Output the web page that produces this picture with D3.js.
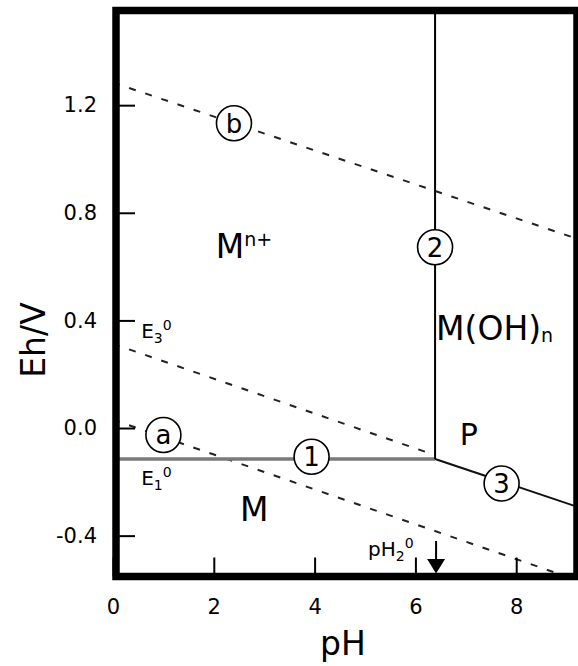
<!DOCTYPE html>
<html>
<head>
<meta charset="utf-8">
<script src="https://cdn.jsdelivr.net/npm/d3@7"></script>
<style>
  body { margin: 0; background: #fff; }
  text { font-family: "DejaVu Sans", Verdana, sans-serif; fill: #000; }
</style>
</head>
<body>
<script>

// axis values
var pHDomain = [0, 9.2];
var EhDomain = [-0.55, 1.55];
var xTicks = [0, 2, 4, 6, 8];
var yTicks = [-0.4, 0.0, 0.4, 0.8, 1.2];

// boundary lines, [pH, Eh]
var line1 = [[0, -0.115], [6.39, -0.115]];
var line2 = [[6.39, 1.55], [6.39, -0.115]];
var line3 = [[6.39, -0.115], [9.2, -0.292]];
var lineE3 = [[0, 0.313], [6.39, -0.101]];
var lineA = [[0, 0.031], [9.2, -0.565]];
var lineB = [[0, 1.284], [9.2, 0.704]];

// circled labels
var circText = ["b", "2", "a", "1", "3"];
var circPH = [2.40, 6.39, 1.00, 3.94, 7.71];
var circEh = [1.133, 0.672, -0.026, -0.107, -0.206];

var W = 578, H = 666;
var frame = {left: 116, right: 577, top: 10.5, bottom: 576.5};

var xScale = d3.scaleLinear().domain(pHDomain).range([113, 576.7]);
var yScale = d3.scaleLinear().domain(EhDomain).range([576, 11]);

var svg = d3.select("body").append("svg")
    .attr("width", W)
    .attr("height", H);

svg.append("rect").attr("width", W).attr("height", H).attr("fill", "#fff");

svg.append("clipPath").attr("id", "plot")
    .append("rect")
    .attr("x", frame.left).attr("y", frame.top)
    .attr("width", frame.right - frame.left)
    .attr("height", frame.bottom - frame.top);

var line = d3.line().x(function(d){ return xScale(d[0]); }).y(function(d){ return yScale(d[1]); });

function drawAxes(){
    var yAxis = d3.axisLeft(yScale).tickValues(yTicks).tickSize(-19).tickPadding(19)
        .tickFormat(function(d){ return d.toFixed(1); });
    var gy = svg.append("g")
        .attr("transform", "translate(" + frame.left + ",0)")
        .call(yAxis);
    gy.select(".domain").remove();
    gy.selectAll("line").attr("stroke", "#000").attr("stroke-width", 2);
    gy.selectAll("text").attr("font-size", "21px").attr("font-family", "DejaVu Sans");

    var xAxis = d3.axisBottom(xScale).tickValues(xTicks).tickSize(-19).tickPadding(23);
    var gx = svg.append("g")
        .attr("transform", "translate(0," + frame.bottom + ")")
        .call(xAxis);
    gx.select(".domain").remove();
    gx.selectAll("line").attr("stroke", "#000").attr("stroke-width", 2);
    gx.selectAll("text").attr("font-size", "21px").attr("font-family", "DejaVu Sans");

    svg.append("text")
        .attr("x", 343).attr("y", 655)
        .attr("text-anchor", "middle")
        .attr("font-size", "33px")
        .text("pH");

    svg.append("text")
        .attr("transform", "translate(45,340) rotate(-90)")
        .attr("text-anchor", "middle")
        .attr("font-size", "33px")
        .text("Eh/V");
}

function drawLines(){
    var g = svg.append("g").attr("clip-path", "url(#plot)");

    // dashed water / E3 lines
    [lineA, lineB, lineE3].forEach(function(l){
        g.append("path").attr("d", line(l))
            .attr("fill", "none").attr("stroke", "#222")
            .attr("stroke-width", 2).attr("stroke-dasharray", "7,10");
    });

    g.append("path").attr("d", line(line1))
        .attr("fill", "none").attr("stroke", "#7a7a7a").attr("stroke-width", 3.5);
    g.append("path").attr("d", line(line2))
        .attr("fill", "none").attr("stroke", "#000").attr("stroke-width", 2);
    g.append("path").attr("d", line(line3))
        .attr("fill", "none").attr("stroke", "#111").attr("stroke-width", 2);

    // pH2 arrow
    var xa = xScale(6.41);
    g.append("line")
        .attr("x1", xa).attr("x2", xa)
        .attr("y1", yScale(-0.42)).attr("y2", yScale(-0.5))
        .attr("stroke", "#000").attr("stroke-width", 2);
    g.append("path")
        .attr("d", "M" + (xa - 9) + "," + yScale(-0.487) + "L" + (xa + 9) + "," + yScale(-0.487) + "L" + xa + "," + (frame.bottom - 3) + "Z")
        .attr("fill", "#000");
}

function drawLabels(){
    // circled numbers / letters
    var c = svg.selectAll(".circ").data(circText).enter().append("g")
        .attr("class", "circ")
        .attr("transform", function(d, i){ return "translate(" + xScale(circPH[i]) + "," + yScale(circEh[i]) + ")"; });
    c.append("circle").attr("r", 17.5)
        .attr("fill", "#fff").attr("stroke", "#000").attr("stroke-width", 1.6);
    c.append("text")
        .attr("text-anchor", "middle")
        .attr("dy", "0.36em")
        .attr("font-size", "26px")
        .text(function(d){ return d; });

    // region labels
    var t = svg.append("text").attr("x", xScale(2.04)).attr("y", yScale(0.632)).attr("font-size", "33px");
    t.append("tspan").text("M");
    t.append("tspan").attr("font-size", "19px").attr("dy", -12).text("n+");

    var t2 = svg.append("text").attr("x", xScale(6.41)).attr("y", yScale(0.327)).attr("font-size", "33px");
    t2.append("tspan").text("M(OH)");
    t2.append("tspan").attr("font-size", "19px").attr("dy", 2).text("n");

    svg.append("text").attr("x", xScale(6.88)).attr("y", yScale(-0.063)).attr("font-size", "30px").text("P");
    svg.append("text").attr("x", xScale(2.52)).attr("y", yScale(-0.346)).attr("font-size", "33px").text("M");

    // E3°, E1°, pH2°
    function subsup(x, y, main, sub){
        var s = svg.append("text").attr("x", x).attr("y", y).attr("font-size", "20px");
        s.append("tspan").text(main);
        s.append("tspan").attr("font-size", "14px").attr("dy", 5).text(sub);
        s.append("tspan").attr("font-size", "14px").attr("dy", -13).text("0");
    }
    subsup(xScale(0.56), yScale(0.335), "E", "3");
    subsup(xScale(0.56), yScale(-0.212), "E", "1");
    subsup(xScale(5.06), yScale(-0.476), "pH", "2");
}

drawLines();
drawAxes();
drawLabels();

// frame on top
svg.append("path")
    .attr("d", "M" + frame.left + "," + frame.top + "H" + frame.right + "V" + frame.bottom + "H" + frame.left + "Z")
    .attr("fill", "none").attr("stroke", "#000").attr("stroke-width", 7.5)
    .attr("stroke-linejoin", "miter");

</script>
</body>
</html>
